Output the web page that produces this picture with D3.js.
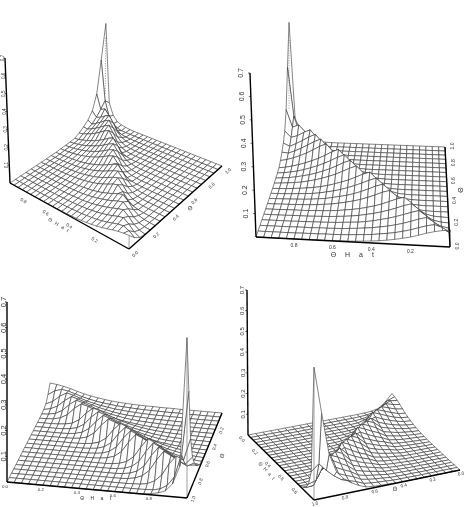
<!DOCTYPE html>
<html>
<head>
<meta charset="utf-8">
<style>
html,body{margin:0;padding:0;background:#fff;overflow:hidden}
svg{display:block;filter:grayscale(1)}
text{font-family:"Liberation Sans",Arial,sans-serif;fill:#333}
</style>
<script src="https://cdn.jsdelivr.net/npm/d3@7"></script>
</head>
<body>
<svg id="chart" width="465" height="507"></svg>
<script>
// Grid of the estimator axis and of the parameter axis.
const thetaHat = [0,.04,.08,.12,.16,.2,.24,.28,.32,.36,.4,.44,.48,.52,.56,.6,.64,.68,.72,.76,.8,.84,.88,.92,.96,1];
const theta = [0,.05,.1,.15,.2,.25,.3,.35,.4,.45,.5,.55,.6,.65,.7,.75,.8,.85,.9,.95,1];

// Density in thousandths; one row per theta, one column per thetaHat.
const density = [
[70,66,60,52,42,33,26,20,15,11,8,6,4,3,2,2,1,1,1,0,0,0,0,0,0,0],
[34,54,64,58,48,38,30,23,18,14,10,8,6,4,3,2,2,1,1,1,0,0,0,0,0,0],
[10,24,50,68,60,49,39,31,24,19,14,11,8,6,4,3,2,2,1,1,1,0,0,0,0,0],
[3,9,24,51,72,63,52,42,33,26,19,14,10,8,6,4,3,2,2,1,1,0,0,0,0,0],
[1,3,9,25,54,76,67,55,44,35,27,21,15,11,8,6,4,3,2,1,1,1,0,0,0,0],
[0,1,3,10,27,57,80,71,58,46,36,28,21,16,12,8,6,4,3,2,1,1,1,0,0,0],
[0,0,0,1,4,10,28,60,84,75,61,49,38,30,23,17,12,9,6,4,3,2,1,1,0,0],
[0,0,0,0,1,4,11,29,62,88,78,64,51,40,31,24,18,12,9,6,4,3,2,1,1,0],
[0,0,0,0,0,1,4,12,31,64,92,81,67,54,43,33,25,19,13,9,7,5,3,2,1,1],
[0,0,0,0,0,0,1,4,12,32,67,96,85,70,56,45,35,26,19,14,10,7,5,3,2,1],
[0,0,0,0,0,0,0,0,2,5,13,33,70,100,88,73,58,46,36,27,20,14,10,7,5,3],
[0,0,0,0,0,0,0,0,0,2,5,14,34,73,104,92,75,60,48,37,28,21,15,10,7,5],
[0,0,0,0,0,0,0,0,0,0,2,5,15,36,76,108,95,78,63,50,39,29,21,15,10,7],
[0,0,0,0,0,0,0,0,0,0,0,2,6,15,37,78,112,99,81,65,52,40,30,22,15,11],
[0,0,0,0,0,0,0,0,0,0,0,0,0,2,6,16,38,80,116,102,84,67,53,41,31,25],
[0,0,0,0,0,0,0,0,0,0,0,0,0,0,2,6,16,39,82,118,104,86,69,54,42,45],
[0,0,0,0,0,0,0,0,0,0,0,0,0,0,0,2,6,17,40,84,120,106,87,70,55,70],
[0,0,0,0,0,0,0,0,0,0,0,0,0,0,0,0,2,7,18,42,86,122,108,90,80,110],
[0,0,0,0,0,0,0,0,0,0,0,0,0,0,0,0,0,1,2,7,20,46,92,125,112,200],
[0,0,0,0,0,0,0,0,0,0,0,0,0,0,0,0,0,0,0,1,2,8,24,60,150,400],
[0,0,0,0,0,0,0,0,0,0,0,0,0,0,0,0,0,0,0,1,5,10,20,50,120,620]
];

const zTicks = [.1,.2,.3,.4,.5,.6,.7];
const hatTicks = [0,.2,.4,.6,.8];
const parameterTicks = [0,.2,.4,.6,.8,1];
const thetaHatTitle = "\u0398 H a t";
const thetaTitle = "\u0398";

// Each view: ground corners keyed "thetaHat,theta", the screen vector of z = 0.7
// at those corners, and how the three axes are labelled.
const views = [
 {ground:{c00:[129,249],c10:[10,183],c11:[105,120],c01:[222,166]},
  up:{c00:[2,-135],c10:[-5,-125],c11:[1,-109],c01:[8,-122]},
  spike:true,
  hatEdge:{v:0,off:[-7,6],rot:32,size:4.6,skip:[0]}, thEdge:{u:0,off:[6,5],rot:-42,size:4.6,skip:[]},
  zLabel:{dx:-1,size:4.6}, zCorner:"c10",
  hatTitle:[59,225,31,5,1.2], thTitle:[190,208,-42,6]},
 {ground:{c00:[450,247],c10:[256,237],c11:[289,141],c01:[445,147]},
  up:{c00:[6,-170],c10:[-6,-164],c11:[0,-134],c01:[4,-130]},
  spike:true,
  hatEdge:{v:0,off:[0,6],rot:0,size:5,skip:[0]}, thEdge:{u:0,off:[7,-1],rot:-90,size:5,skip:[]},
  zLabel:{dx:-7,size:7}, zCorner:"c10",
  hatTitle:[354,255,0,7,3.5], thTitle:[461,190,-90,7]},
 {ground:{c00:[50,398],c10:[222,413],c11:[187,498],c01:[7,482]},
  up:{c00:[0,-150],c10:[0,-150],c11:[0,-181],c01:[0,-180]},
  spike:false,
  hatEdge:{v:1,off:[-2,4],rot:0,size:4.4,skip:[]}, thEdge:{u:1,off:[6,1],rot:-72,size:4.6,skip:[0]},
  zLabel:{dx:-1.5,size:7.5}, zCorner:"c01",
  hatTitle:[97,498,0,5,2.5], thTitle:[222,456,-72,6]},
 {ground:{c00:[392,408],c10:[460,470],c11:[314,500],c01:[248,435]},
  up:{c00:[0,-145],c10:[2,-145],c11:[0,-150],c01:[-1,-145]},
  spike:false,
  hatEdge:{v:1,off:[-6,4],rot:48,size:4.6,skip:[]}, thEdge:{u:1,off:[1,3.5],rot:-14,size:4.6,skip:[]},
  zLabel:{dx:-3,size:6}, zCorner:"c01",
  hatTitle:[267,471,48,5,1], thTitle:[395,489,-14,6]}
];

const zUnit = d3.scaleLinear().domain([0,.7]).range([0,1]);
const uScale = d3.scaleLinear().domain(d3.extent(thetaHat)).range([0,1]);
const vScale = d3.scaleLinear().domain(d3.extent(theta)).range([0,1]);

// Projective map of the unit square onto the four ground corners.
function groundMap(g){
  const [x0,y0]=g.c00,[x1,y1]=g.c10,[x2,y2]=g.c11,[x3,y3]=g.c01;
  const dx1=x1-x2,dx2=x3-x2,dy1=y1-y2,dy2=y3-y2,sx=x0-x1+x2-x3,sy=y0-y1+y2-y3;
  const den=dx1*dy2-dx2*dy1,h1=(sx*dy2-dx2*sy)/den,h2=(dx1*sy-sx*dy1)/den;
  const a=x1-x0+h1*x1,b=x3-x0+h2*x3,d=y1-y0+h1*y1,e=y3-y0+h2*y3;
  return (u,v)=>{const w=h1*u+h2*v+1;return [(a*u+b*v+x0)/w,(d*u+e*v+y0)/w];};
}
const mix=(up,u,v,i)=>(1-u)*(1-v)*up.c00[i]+u*(1-v)*up.c10[i]+u*v*up.c11[i]+(1-u)*v*up.c01[i];

const svg=d3.select("#chart");
const outline=d3.line();

views.forEach(view=>{
  const gMap=groundMap(view.ground);
  const layer=svg.append("g");
  const project=(th,t,z)=>{
    const u=uScale(th),v=vScale(t),p=gMap(u,v),f=zUnit(z);
    return [p[0]+f*mix(view.up,u,v,0),p[1]+f*mix(view.up,u,v,1)];
  };

  const cornerU=view.zCorner==="c10"?1:0,cornerV=view.zCorner==="c01"?1:0;
  const zAt=z=>project(cornerU,cornerV,z);

  // Facets back to front, each hiding what lies behind it.
  const quads=[];
  for(let j=0;j<theta.length-1;j++)for(let i=0;i<thetaHat.length-1;i++){
    const depth=gMap(uScale(thetaHat[i]+.02),vScale(theta[j]+.025))[1];
    quads.push({i,j,depth});
  }
  quads.sort((a,b)=>d3.ascending(a.depth,b.depth));
  layer.selectAll("path.facet").data(quads).join("path")
    .attr("class","facet")
    .attr("d",q=>{
      const pts=[[q.i,q.j],[q.i+1,q.j],[q.i+1,q.j+1],[q.i,q.j+1]]
        .map(([i,j])=>project(thetaHat[i],theta[j],density[j][i]/1000));
      return outline(pts)+"Z";
    })
    .attr("fill","#fff").attr("stroke","#333").attr("stroke-width",.6).attr("stroke-linejoin","round");

  // Vertical from the nearest corner up to the surface.
  const nearU=view.thEdge.u,nearV=view.hatEdge.v;
  const ni=nearU*(thetaHat.length-1),nj=nearV*(theta.length-1);
  layer.append("path")
    .attr("d",outline([project(thetaHat[ni],theta[nj],0),project(thetaHat[ni],theta[nj],density[nj][ni]/1000)]))
    .attr("stroke","#777").attr("stroke-width",.7).attr("fill","none");

  // Dotted drop below the tip when the spike stands at the far corner.
  if(view.spike){
    const last=thetaHat.length-1,top=theta.length-1;
    layer.append("path")
      .attr("d",outline([project(1,1,density[top][last]/1000*.85),project(1,1,.16)]))
      .attr("stroke","#555").attr("stroke-width",.6).attr("stroke-dasharray","1 1.5").attr("fill","none");
  }

  // Bold axes.
  const edgeAt=(th,t)=>project(th,t,0);
  const hatV=view.hatEdge.v,thU=view.thEdge.u;
  const bold=d=>layer.append("path").attr("fill","none").attr("stroke","#000").attr("stroke-width",1.4).attr("d",d);
  bold(outline([edgeAt(0,hatV),edgeAt(1,hatV)]));
  bold(outline([edgeAt(thU,0),edgeAt(thU,1)]));
  bold(outline([zAt(0),zAt(.7)]));

  // Vertical axis ticks and labels.
  zTicks.forEach(z=>{
    const p=zAt(z),lz=view.zLabel;
    layer.append("path").attr("d",outline([p,[p[0]-2,p[1]]])).attr("stroke","#000").attr("stroke-width",.6);
    layer.append("text").attr("transform",`translate(${p[0]+lz.dx},${p[1]}) rotate(-90)`)
      .attr("text-anchor","middle").attr("font-size",lz.size).text(z.toFixed(1));
  });

  // Base axis labels.
  const h=view.hatEdge,e=view.thEdge;
  hatTicks.filter(t=>!h.skip.includes(t)).forEach(t=>{
    const a=edgeAt(t,h.v);
    layer.append("text").attr("transform",`translate(${a[0]+h.off[0]},${a[1]+h.off[1]}) rotate(${h.rot})`)
      .attr("text-anchor","middle").attr("dy","0.35em").attr("font-size",h.size).text(t.toFixed(1));
  });
  parameterTicks.filter(t=>!e.skip.includes(t)).forEach(t=>{
    const b=edgeAt(e.u,t);
    layer.append("text").attr("transform",`translate(${b[0]+e.off[0]},${b[1]+e.off[1]}) rotate(${e.rot})`)
      .attr("text-anchor","middle").attr("dy","0.35em").attr("font-size",e.size).text(t.toFixed(1));
  });

  // Axis titles.
  const [hx,hy,hr,hs,hl]=view.hatTitle,[tx,ty,tr,ts]=view.thTitle;
  layer.append("text").attr("transform",`translate(${hx},${hy}) rotate(${hr})`)
    .attr("text-anchor","middle").attr("dy","0.35em").attr("font-size",hs).attr("letter-spacing",hl).text(thetaHatTitle);
  layer.append("text").attr("transform",`translate(${tx},${ty}) rotate(${tr})`)
    .attr("text-anchor","middle").attr("dy","0.35em").attr("font-size",ts).text(thetaTitle);
});
</script>
</body>
</html>
